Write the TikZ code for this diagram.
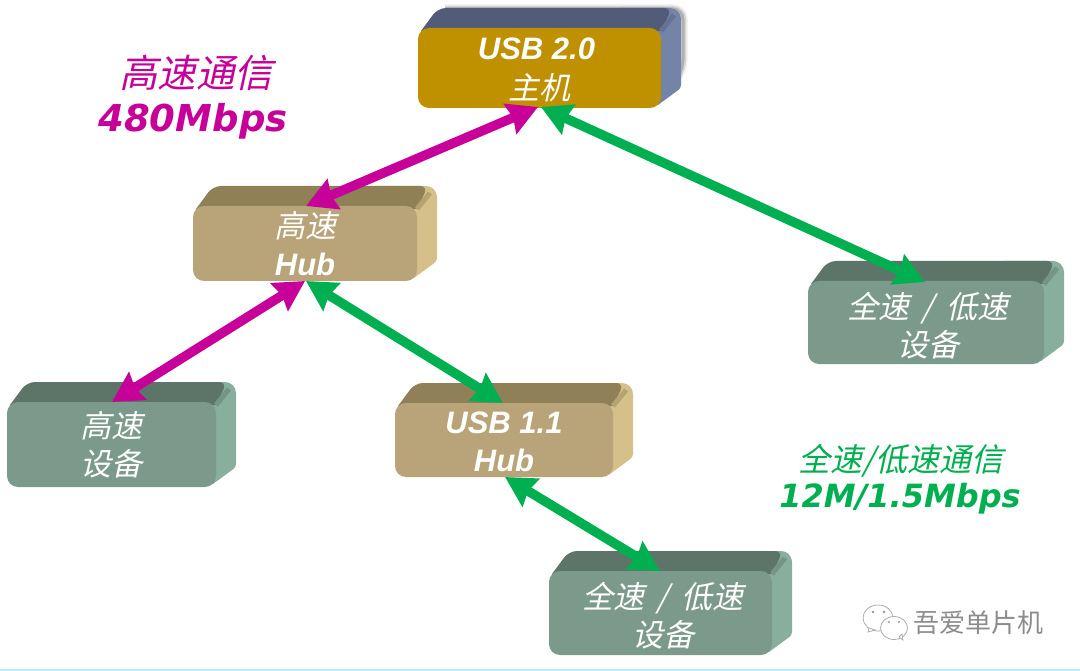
\documentclass[tikz,border=0pt]{standalone}
\usepackage{fontspec}
\usetikzlibrary{arrows.meta}
\newfontfamily\cjkit[FakeSlant=0.22]{Noto Sans CJK SC}
\newfontfamily\cjkup{Noto Sans CJK SC}
\newfontfamily\latbi{Liberation Sans}[BoldItalicFont=* Bold Italic]
\newfontfamily\vbi{DejaVu Sans}
\definecolor{hostF}{HTML}{BF9000}\definecolor{hostT}{HTML}{525C78}\definecolor{hostS}{HTML}{7484A8}
\definecolor{hubF}{HTML}{B8A478}\definecolor{hubT}{HTML}{8F8058}\definecolor{hubS}{HTML}{D4C088}
\definecolor{devF}{HTML}{7C9A8C}\definecolor{devT}{HTML}{5C7568}\definecolor{devS}{HTML}{88AE9E}
\definecolor{hsM}{HTML}{C8009A}\definecolor{fsG}{HTML}{00B050}
\newcommand{\cn}[1]{{\cjkit #1}}
\newcommand{\en}[1]{{\latbi\bfseries\itshape #1}}
% name, x0, y0, x1, y1, front, top, side, text
\newcommand{\slab}[9]{%
  \pgfmathsetmacro{\xa}{#2}\pgfmathsetmacro{\ya}{#3}\pgfmathsetmacro{\xb}{#4}\pgfmathsetmacro{\yb}{#5}%
  \pgfmathsetmacro{\xc}{\xa+20}\pgfmathsetmacro{\yc}{\ya-20}\pgfmathsetmacro{\xd}{\xb+20}\pgfmathsetmacro{\yd}{\yb-20}%
  \pgfmathsetmacro{\xe}{\xa+3}\pgfmathsetmacro{\ye}{\ya+3}\pgfmathsetmacro{\xi}{\xb-3}\pgfmathsetmacro{\yi}{\yb-3}%
  \pgfmathsetmacro{\xg}{\xd-9}\pgfmathsetmacro{\xk}{\xb-40}\pgfmathsetmacro{\xl}{\xd-7}\pgfmathsetmacro{\yl}{\yc+7}\pgfmathsetmacro{\yh}{\ya+3}%
  \pgfmathsetmacro{\xj}{\xb-12}\pgfmathsetmacro{\yj}{\ya+12}%
  \pgfmathsetmacro{\xm}{(\xa+\xb)/2}\pgfmathsetmacro{\ym}{(\ya+\yb)/2}%
  \pgfmathsetmacro{\w}{\xb-\xa}\pgfmathsetmacro{\h}{\yb-\ya}%
  \fill[#8] (\xj,\yj) -- (\xj,\ya) -- (\xk,\yc) [rounded corners=11pt] -- (\xd,\yc) [rounded corners=3pt] -- (\xd,\yd) [sharp corners] -- (\xi,\yi) -- cycle;
  \fill[#7] (\xe,\ye) [rounded corners=8pt] -- (\xc,\yc) -- (\xg,\yc) [sharp corners] -- (\xb,\ye) -- cycle;
  \draw[#8!55!#7,line width=5pt] (\xl,\yl) -- (\xb,\yh);
  \node[front,fill=#6,minimum width=\w pt,minimum height=\h pt] (#1) at (\xm,\ym) {#9};
}
\tikzset{
  x=1pt,y=-1pt,
  front/.style={rounded corners=11pt,inner sep=0pt,text=white,align=center,font=\fontsize{31}{38}\selectfont},
  biarrow/.style={line width=9.5pt,{Stealth[length=30pt,width=32pt,inset=3pt]}-{Stealth[length=30pt,width=32pt,inset=3pt]}},
  hslink/.style={biarrow,draw=hsM},
  fslink/.style={biarrow,draw=fsG},
  bubble/.style={draw=black!32,line width=0.8pt,fill=white},
}
\begin{document}
\begin{tikzpicture}
\useasboundingbox (0,0) rectangle (1080,671);
\fill[white] (0,0) rectangle (1080,671);
\fill[cyan!25!white] (0,669) rectangle (1080,671);
% host shadow
\foreach \s/\o in {9/0.07,6/0.10,3/0.16}{
  \draw[black,opacity=\o,line width=\s pt,rounded corners=10pt]
    (445,9) -- (683,9) -- (683,70) -- (666,92);
}
\slab{host}{418}{28}{661}{108}{hostF}{hostT}{hostS}{\rule{0pt}{25pt}\en{USB 2.0}\hspace*{6pt}\\[2pt]\cn{主机}}
\slab{hsHub}{193}{206}{417}{281}{hubF}{hubT}{hubS}{\cn{高速}\\\en{Hub}}
\slab{hsDev}{7}{402}{216}{487}{devF}{devT}{devS}{\rule{0pt}{27pt}\cn{高速}\\\cn{设备}}
\slab{fsHub}{395}{403}{613}{477}{hubF}{hubT}{hubS}{\rule{0pt}{25pt}\en{USB 1.1}\\\en{Hub}}
\slab{fsDevR}{808}{281}{1044}{364}{devF}{devT}{devS}{\rule{0pt}{33pt}\hspace*{4pt}\cn{全速\hspace{0.4em}/\hspace{0.4em}低速}\\\hspace*{4pt}\cn{设备}}
\slab{fsDevB}{549}{571}{772}{655}{devF}{devT}{devS}{\rule{0pt}{31pt}\hspace*{5pt}\cn{全速\hspace{0.4em}/\hspace{0.4em}低速}\\\hspace*{5pt}\cn{设备}}
% connector ends
\coordinate (hostM) at (538,107);
\coordinate (hostG) at (541,107);
\coordinate (hsHubT) at (306,206);
\coordinate (hsHubBL) at (305,281);
\coordinate (hsHubBR) at (306,281);
\coordinate (hsDevT) at (112,402);
\coordinate (fsHubT) at (503,403);
\coordinate (fsHubB) at (505,477);
\coordinate (fsDevRT) at (925,282);
\coordinate (fsDevBT) at (660,571);
\draw[hslink] (hostM) -- (hsHubT);
\draw[hslink] (hsHubBL) -- (hsDevT);
\draw[fslink] (hostG) -- (fsDevRT);
\draw[fslink] (hsHubBR) -- (fsHubT);
\draw[fslink] (fsHubB) -- (fsDevBT);
% captions
\node[text=hsM,font=\fontsize{38.5}{40}\selectfont,inner sep=0pt] (capA) at (196,73) {\cn{高速通信}};
\node[text=hsM,font=\fontsize{37}{40}\selectfont\vbi\bfseries\itshape,inner sep=0pt] (capB) at (193,121) {480Mbps};
\node[text=fsG,font=\fontsize{32}{34}\selectfont,inner sep=0pt] (capC) at (901,461) {\cn{全速/低速通信}};
\node[text=fsG,font=\fontsize{32}{34}\selectfont\vbi\bfseries\itshape,inner sep=0pt] (capD) at (900,499) {12M/1.5Mbps};
% watermark
\path[bubble] (878,618) ellipse [x radius=15,y radius=13];
\path[bubble] (869,628) -- (868,632) -- (875,630) -- cycle;
\path[bubble] (894,628) ellipse [x radius=13.5,y radius=11.5];
\path[bubble] (899,637) -- (903,640) -- (902,634) -- cycle;
\fill[black!40] (873,612) circle (1.3) (884,612) circle (1.3) (889,622) circle (1.2) (899,622) circle (1.2);
\node[text=black!45,font=\fontsize{26}{30}\selectfont\cjkup,inner sep=0pt] (mark) at (978,623) {吾爱单片机};
\end{tikzpicture}
\end{document}
